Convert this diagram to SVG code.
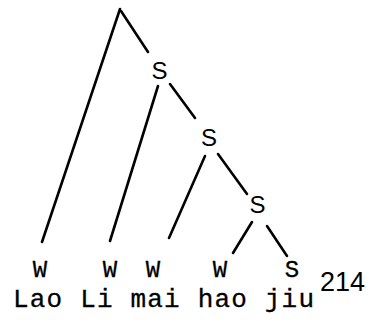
<svg xmlns="http://www.w3.org/2000/svg" width="370" height="322" viewBox="0 0 370 322">
<style>
.e{stroke:#000;stroke-width:2.6;stroke-linecap:round;fill:none}
.s{font-family:"Liberation Sans",Arial,sans-serif;font-size:24px;fill:#000;text-anchor:middle}
.w{font-family:"Liberation Mono","Courier New",monospace;font-size:24px;fill:#000;stroke:#000;stroke-width:0.3;text-anchor:middle}
.t{font-family:"Liberation Mono","Courier New",monospace;font-size:26px;fill:#000;stroke:#000;stroke-width:0.3}
.n{font-family:"Liberation Sans",Arial,sans-serif;font-size:27px;fill:#000}
</style>
<rect width="370" height="322" fill="#fff"/>
<g id="connectors">
<line class="e" x1="120" y1="9" x2="42" y2="242"/>
<line class="e" x1="121" y1="11" x2="148" y2="52"/>
<line class="e" x1="158" y1="86" x2="110" y2="241"/>
<line class="e" x1="170" y1="84" x2="195" y2="118"/>
<line class="e" x1="205" y1="156" x2="169" y2="238"/>
<line class="e" x1="218" y1="154" x2="247" y2="194"/>
<line class="e" x1="252" y1="222" x2="233" y2="253"/>
<line class="e" x1="267" y1="226" x2="287" y2="256"/>
</g>
<g id="s1"><text class="s" x="159.5" y="79">S</text></g>
<g id="s2"><text class="s" x="209" y="146">S</text></g>
<g id="s3"><text class="s" x="257.5" y="213">S</text></g>
<g id="w1"><text class="w" x="40" y="277">W</text></g>
<g id="w2"><text class="w" x="110" y="277">W</text></g>
<g id="w3"><text class="w" x="153" y="277">W</text></g>
<g id="w4"><text class="w" x="220" y="277">W</text></g>
<g id="s4"><text class="w" x="292" y="277">S</text></g>
<g id="words"><text class="t" x="13" y="307" textLength="301" lengthAdjust="spacing">Lao Li mai hao jiu</text></g>
<g id="page"><text class="n" x="320" y="291">214</text></g>
</svg>
